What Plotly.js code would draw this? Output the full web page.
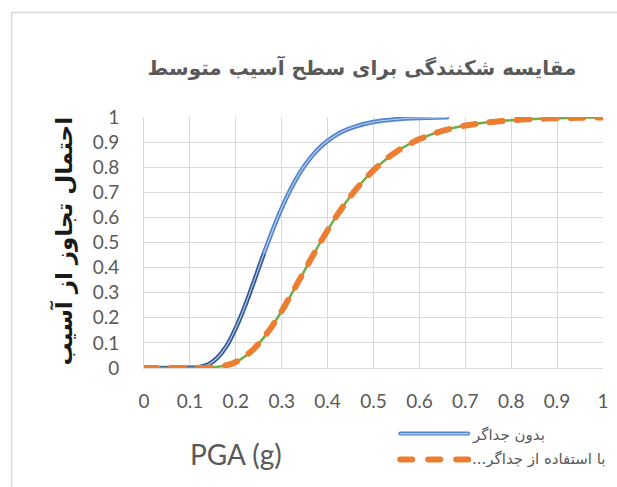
<!DOCTYPE html>
<html>
<head>
<meta charset="utf-8">
<script src="https://cdn.plot.ly/plotly-3.0.1.min.js"></script>
<style>
  html, body { margin: 0; padding: 0; background: #ffffff; }
  #chart { width: 617px; height: 487px; }
  .scatterlayer .js-line { stroke-linecap: round; }
  .shapelayer path { stroke-linecap: round; }
</style>
</head>
<body>
<div id="chart"></div>
<script>
// Series 1: بدون جداگر
const pgaWithout = [0, 0.05, 0.1, 0.12, 0.14, 0.16, 0.18, 0.2, 0.22, 0.24, 0.26, 0.28, 0.3, 0.32, 0.34, 0.36, 0.38, 0.4, 0.43, 0.46, 0.5, 0.55, 0.6, 0.66];
const probWithout = [0, 0, 0.0005, 0.0035, 0.014, 0.041, 0.088, 0.159, 0.247, 0.347, 0.450, 0.548, 0.637, 0.714, 0.779, 0.831, 0.873, 0.905, 0.940, 0.962, 0.980, 0.991, 0.996, 0.9986];

// Series 2: با استفاده از جداگر
const pgaWith = [0, 0.05, 0.1, 0.14, 0.18, 0.2, 0.22, 0.24, 0.26, 0.28, 0.3, 0.32, 0.34, 0.36, 0.38, 0.4, 0.42, 0.44, 0.46, 0.48, 0.5, 0.53, 0.56, 0.6, 0.65, 0.7, 0.75, 0.8, 0.85, 0.9, 0.95, 1.0];
const probWith = [0, 0, 0, 0.001, 0.011, 0.024, 0.046, 0.077, 0.119, 0.169, 0.227, 0.290, 0.356, 0.422, 0.487, 0.549, 0.607, 0.660, 0.708, 0.750, 0.788, 0.836, 0.874, 0.912, 0.945, 0.966, 0.979, 0.987, 0.992, 0.995, 0.997, 0.998];

const seriesNames = ['بدون جداگر', 'با استفاده از جداگر...\u200F'];
const chartTitle = 'مقایسه شکنندگی برای سطح آسیب متوسط';
const yTitle = 'احتمال تجاوز از آسیب';
const xTitle = 'PGA (g)';
const tickVals = [0, 0.1, 0.2, 0.3, 0.4, 0.5, 0.6, 0.7, 0.8, 0.9, 1];
const tickText = ['0', '0.1', '0.2', '0.3', '0.4', '0.5', '0.6', '0.7', '0.8', '0.9', '1'];

// lower (darker) portion of the blue curve
const darkCut = 9;

const blueMain = '#5585C9', blueDark = '#34538F', blueLight = '#B4CEEC', green = '#70AD47', orange = '#ED7D31';

const traces = [
  { x: pgaWithout, y: probWithout, mode: 'lines', name: seriesNames[0],
    line: { color: blueMain, width: 4.5, shape: 'spline', smoothing: 0.6 } },
  { x: pgaWithout.slice(0, darkCut + 2), y: probWithout.slice(0, darkCut + 2), mode: 'lines',
    line: { color: blueDark, width: 4, shape: 'spline', smoothing: 0.6 } },
  { x: pgaWithout, y: probWithout, mode: 'lines',
    line: { color: blueLight, width: 1.2, shape: 'spline', smoothing: 0.6 } },
  { x: pgaWith, y: probWith, mode: 'lines',
    line: { color: green, width: 2.5, shape: 'spline', smoothing: 0.6 } },
  { x: pgaWith, y: probWith, mode: 'lines', name: seriesNames[1],
    line: { color: orange, width: 6, dash: '13px,14px', shape: 'spline', smoothing: 0.6 } }
];

const plotL = 143.5, plotR = 603, plotT = 116.7, plotB = 368.3;
const W = 617, H = 487;
const px2x = p => (p - plotL) / (plotR - plotL);
const px2y = p => (plotB - p) / (plotB - plotT);
const tickFont = { family: 'Lato, "Liberation Sans", sans-serif', size: 19, color: '#595959' };
const legFont = { family: '"DejaVu Sans", sans-serif', size: 15, color: '#595959' };

const layout = {
  width: W, height: H,
  margin: { l: plotL, r: W - plotR, t: plotT, b: H - plotB, pad: 0, autoexpand: false },
  paper_bgcolor: '#ffffff', plot_bgcolor: '#ffffff',
  font: { family: 'Lato, "Liberation Sans", sans-serif', color: '#595959' },
  title: { text: '<b>' + chartTitle + '</b>', x: 362 / W, xanchor: 'center',
           y: 1 - 68 / H, yanchor: 'middle',
           font: { family: '"DejaVu Sans", sans-serif', size: 20, color: '#595959' } },
  xaxis: { range: [0, 1], tickvals: tickVals, ticktext: tickText, showgrid: true, gridcolor: '#D9D9D9', gridwidth: 1,
           zeroline: false, showline: true, linecolor: '#D9D9D9', linewidth: 1, mirror: false,
           ticks: 'outside', ticklen: 16, tickcolor: 'rgba(0,0,0,0)',
           tickfont: tickFont, fixedrange: true, automargin: false },
  yaxis: { range: [0, 1], tickvals: tickVals, ticktext: tickText, showgrid: true, gridcolor: '#D9D9D9', gridwidth: 1,
           zeroline: false, showline: true, linecolor: '#D9D9D9', linewidth: 1,
           ticks: 'outside', ticklen: 20, tickcolor: 'rgba(0,0,0,0)',
           tickfont: tickFont, fixedrange: true, automargin: false },
  showlegend: false,
  annotations: [
    { text: '<b>' + yTitle + '</b>', xref: 'paper', yref: 'paper', x: px2x(62), y: px2y(241),
      xanchor: 'center', yanchor: 'middle', textangle: -90, showarrow: false,
      font: { family: '"DejaVu Sans", sans-serif', size: 23, color: '#1a1a1a' } },
    { text: xTitle, xref: 'paper', yref: 'paper', x: px2x(236), y: px2y(455),
      xanchor: 'center', yanchor: 'middle', showarrow: false,
      font: { family: 'Lato, "Liberation Sans", sans-serif', size: 28, color: '#595959' } },
    { text: seriesNames[0], xref: 'paper', yref: 'paper', x: px2x(470), y: px2y(435),
      xanchor: 'left', yanchor: 'middle', showarrow: false, font: legFont },
    { text: seriesNames[1], xref: 'paper', yref: 'paper', x: px2x(470), y: px2y(460),
      xanchor: 'left', yanchor: 'middle', showarrow: false, font: legFont }
  ],
  shapes: [
    { type: 'line', xref: 'paper', yref: 'paper', x0: px2x(11), x1: px2x(11), y0: px2y(12), y1: px2y(500),
      line: { color: '#D9D9D9', width: 1.5 } },
    { type: 'line', xref: 'paper', yref: 'paper', x0: px2x(11), x1: px2x(640), y0: px2y(12), y1: px2y(12),
      line: { color: '#D9D9D9', width: 1.5 } },
    // legend samples
    { type: 'line', xref: 'paper', yref: 'paper', x0: px2x(400), x1: px2x(468), y0: px2y(434), y1: px2y(434),
      line: { color: blueMain, width: 4 } },
    { type: 'line', xref: 'paper', yref: 'paper', x0: px2x(400), x1: px2x(468), y0: px2y(434), y1: px2y(434),
      line: { color: blueLight, width: 1.2 } },
    { type: 'line', xref: 'paper', yref: 'paper', x0: px2x(400), x1: px2x(468), y0: px2y(460), y1: px2y(460),
      line: { color: orange, width: 6, dash: '12px,16px' } }
  ]
};

Plotly.newPlot('chart', traces, layout, { displayModeBar: false, staticPlot: true });
</script>
</body>
</html>
